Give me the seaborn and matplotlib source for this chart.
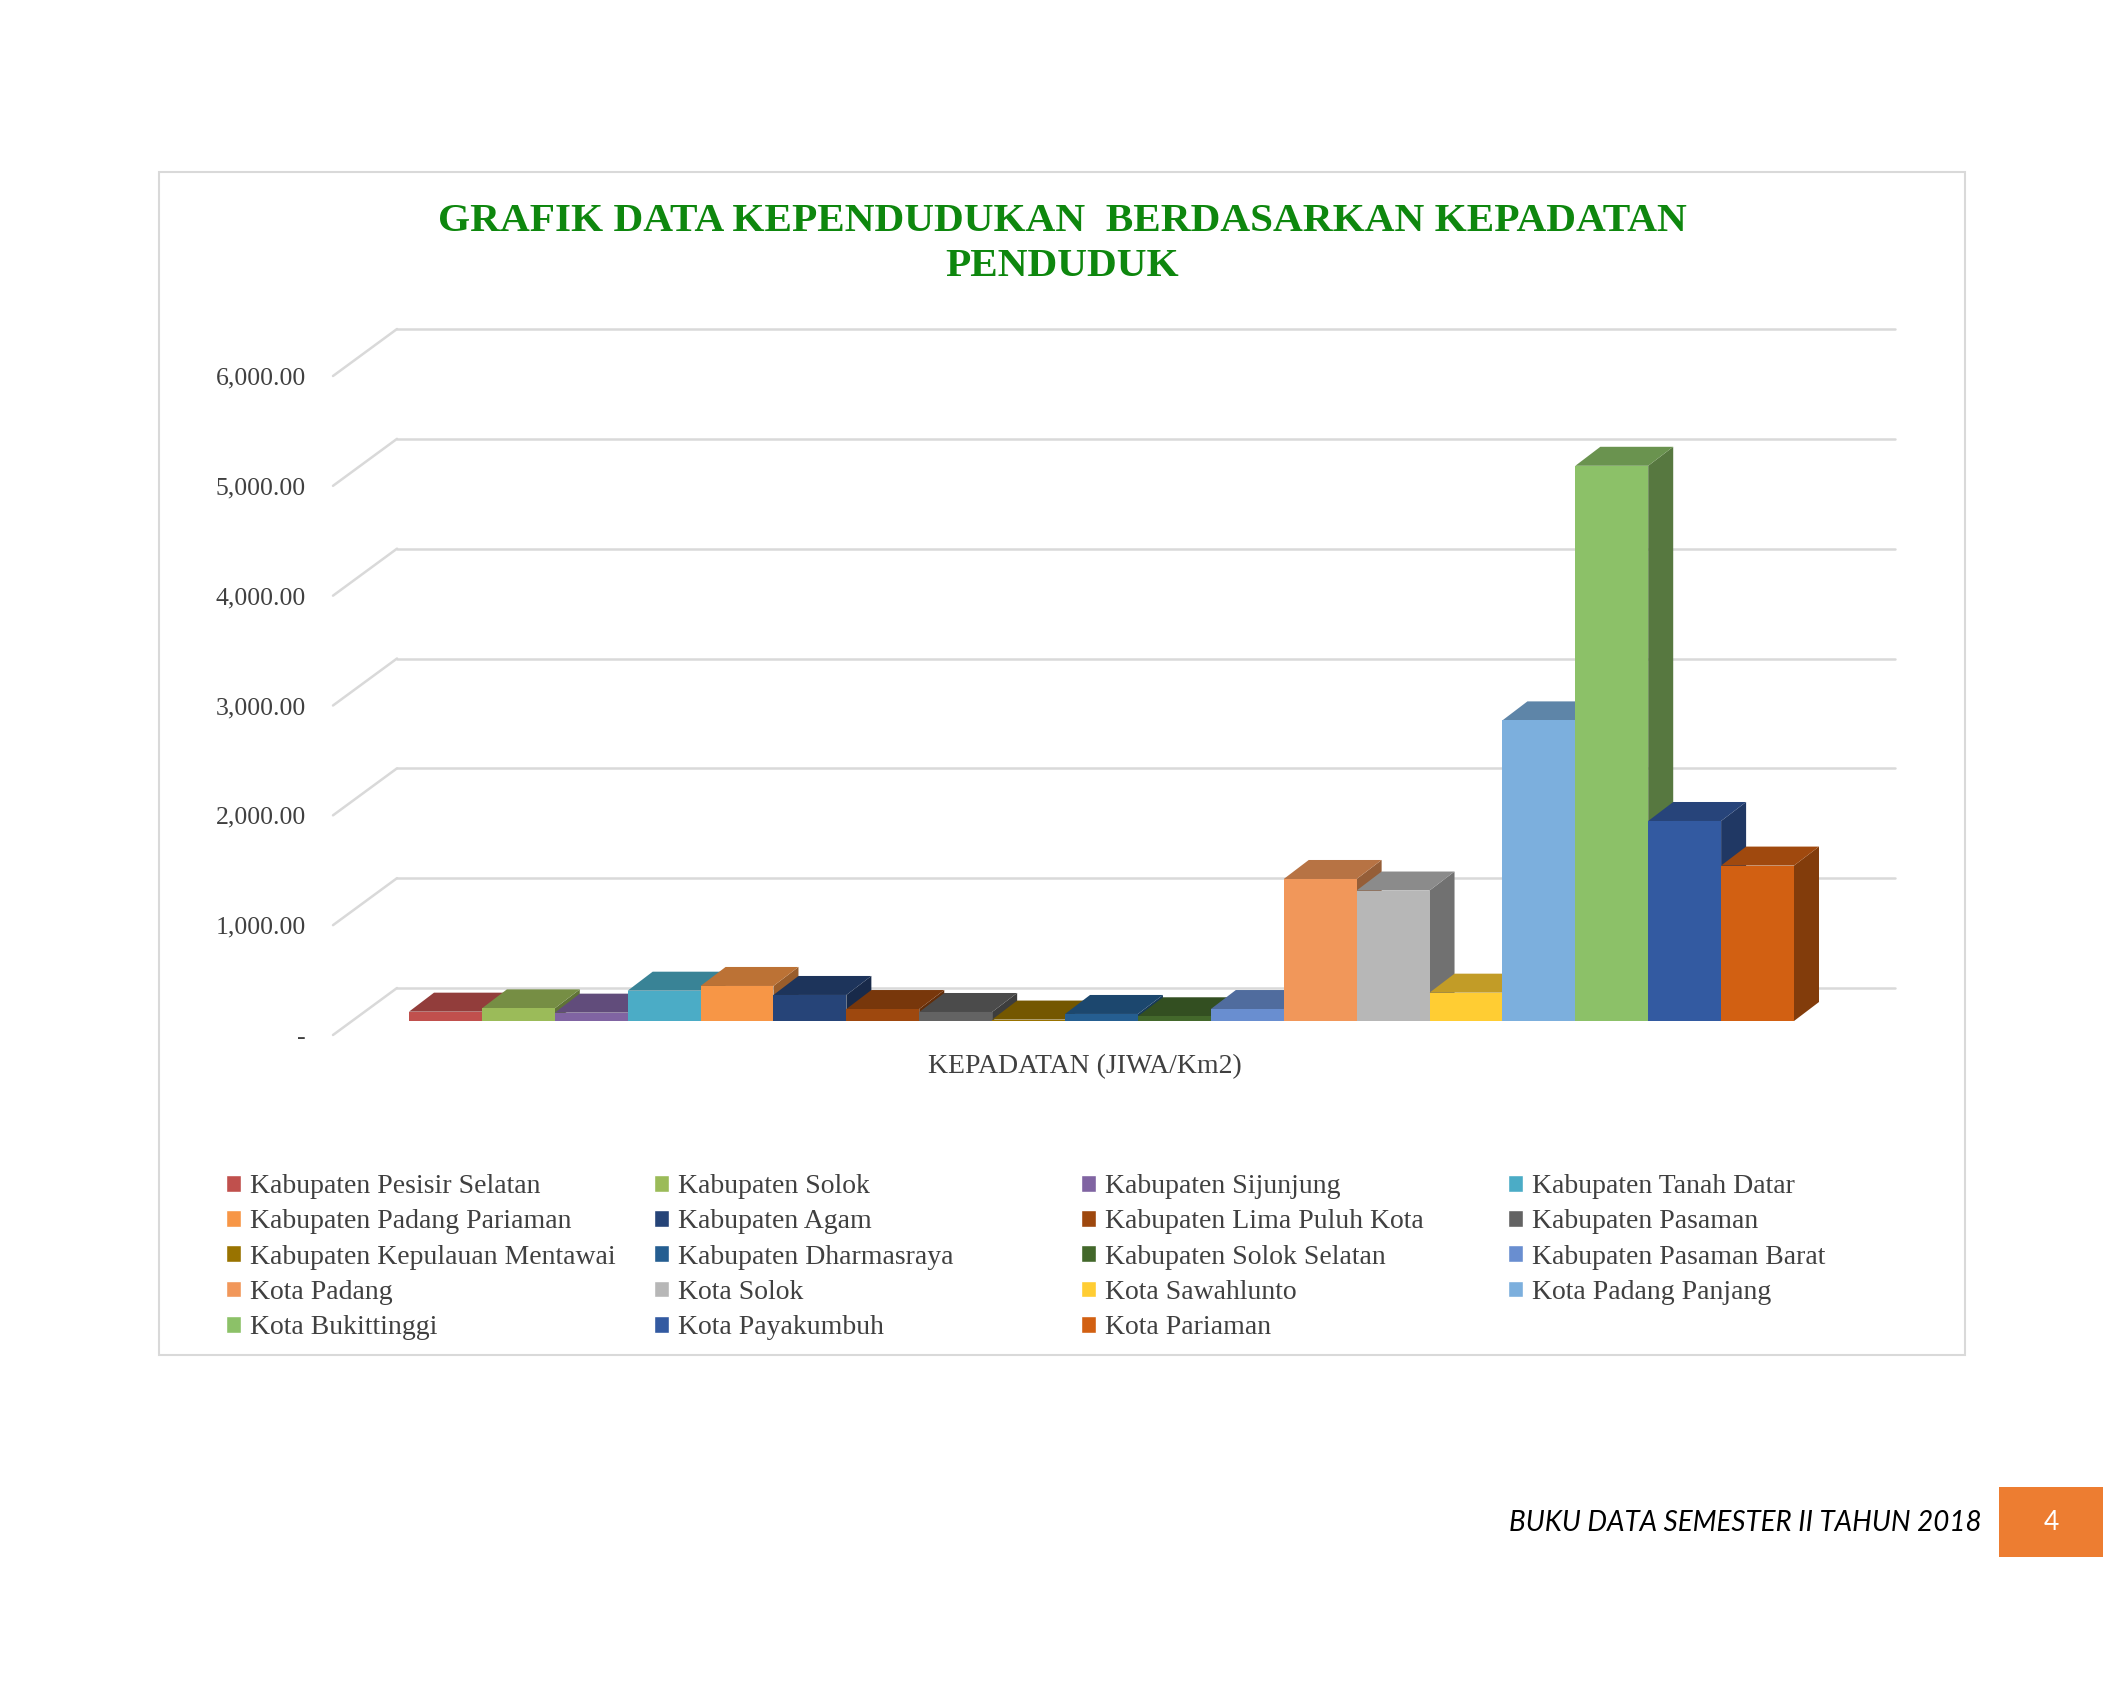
import matplotlib
matplotlib.use("Agg")
import matplotlib.pyplot as plt
from matplotlib.patches import Polygon, Rectangle
from matplotlib.lines import Line2D
from matplotlib.ticker import FuncFormatter
import matplotlib.colors as mcolors
import numpy as np
import pandas as pd
import seaborn as sns

# ---------------- data ----------------
wilayah = [
    "Kabupaten Pesisir Selatan", "Kabupaten Solok", "Kabupaten Sijunjung",
    "Kabupaten Tanah Datar", "Kabupaten Padang Pariaman", "Kabupaten Agam",
    "Kabupaten Lima Puluh Kota", "Kabupaten Pasaman", "Kabupaten Kepulauan Mentawai",
    "Kabupaten Dharmasraya", "Kabupaten Solok Selatan", "Kabupaten Pasaman Barat",
    "Kota Padang", "Kota Solok", "Kota Sawahlunto", "Kota Padang Panjang",
    "Kota Bukittinggi", "Kota Payakumbuh", "Kota Pariaman",
]
kepadatan = [85, 115, 76, 276, 319, 237, 109, 82, 13, 64, 43, 109,
             1293, 1188, 258, 2737, 5055, 1821, 1415]
warna = ["#C0504D", "#9BBB59", "#8064A2", "#4BACC6", "#F79646", "#264478",
         "#9E480E", "#636363", "#997300", "#255E91", "#43682B", "#698ED0",
         "#F1975A", "#B7B7B7", "#FFCD33", "#7CAFDD", "#8CC168", "#335AA1",
         "#D26012"]
y_ticks = [0, 1000, 2000, 3000, 4000, 5000, 6000]
judul = "GRAFIK DATA KEPENDUDUKAN  BERDASARKAN KEPADATAN\nPENDUDUK"
label_x = "KEPADATAN (JIWA/Km2)"
footer = "BUKU DATA SEMESTER II TAHUN 2018"
halaman = "4"

# ---------------- style ----------------
sns.set_style("white")
plt.rcParams["font.family"] = ["Liberation Serif", "DejaVu Serif"]

W, H = 2126, 1694
fig = plt.figure(figsize=(W / 100, H / 100), dpi=100)
fig.patch.set_facecolor("white")

def fx(px):
    return px / W

def fy(py):
    return 1 - py / H

# chart border
fig.add_artist(Rectangle((fx(159), fy(1355)), fx(1965) - fx(159), fy(172) - fy(1355),
                         transform=fig.transFigure, fill=False,
                         edgecolor="#D9D9D9", linewidth=1.5, zorder=0))

# main axes = front plane of the bars
ax_left, ax_right, ax_zero, ax_top = 409, 1794, 1021, 362
ax = fig.add_axes([fx(ax_left), fy(ax_zero), (ax_right - ax_left) / W, (ax_zero - ax_top) / H])
ax.patch.set_visible(False)

df = pd.DataFrame({"wilayah": wilayah, "kepadatan": kepadatan})
sns.barplot(data=df, x="wilayah", y="kepadatan", hue="wilayah",
            hue_order=wilayah, order=wilayah, palette=warna,
            width=1.0, saturation=1, ax=ax, legend=True)
ax.set_xlim(-0.5, len(wilayah) - 0.5)
ax.set_ylim(0, 6000)
for s in ax.spines.values():
    s.set_visible(False)
ax.tick_params(bottom=False, labelbottom=False, left=False, labelleft=False)
ax.set_ylabel("")
ax.set_xlabel(label_x, fontsize=20, color="#404040", va="center")
ax.xaxis.set_label_coords((1085 - ax_left) / (ax_right - ax_left),
                          -(1067 - ax_zero) / (ax_zero - ax_top))

handles, labels = ax.get_legend_handles_labels()
if ax.get_legend() is not None:
    ax.get_legend().remove()

# pixel scale of the data axes
p0 = ax.transData.transform((0, 0))
p1 = ax.transData.transform((1, 1000))
ppx = p1[0] - p0[0]
ppy = (p1[1] - p0[1]) / 1000.0

# 3D depth of bars
ddx, ddy = 25 / ppx, 19 / ppy

def shade(c, f):
    r, g, b = mcolors.to_rgb(c)
    return (r * f, g * f, b * f)

bars = [p for p in ax.patches if isinstance(p, Rectangle) and p.get_height() > 0]
bars = sorted(bars, key=lambda p: p.get_x())
for i, p in enumerate(bars):
    x0, w, h = p.get_x(), p.get_width(), p.get_height()
    base = p.get_facecolor()
    z = 2 + 3 * i
    side = Polygon([(x0 + w, 0), (x0 + w + ddx, ddy), (x0 + w + ddx, h + ddy), (x0 + w, h)],
                   closed=True, facecolor=shade(base, 0.62), edgecolor="none",
                   zorder=z, clip_on=False)
    top = Polygon([(x0, h), (x0 + w, h), (x0 + w + ddx, h + ddy), (x0 + ddx, h + ddy)],
                  closed=True, facecolor=shade(base, 0.76), edgecolor="none",
                  zorder=z + 1, clip_on=False)
    ax.add_patch(side)
    ax.add_patch(top)
    p.set_zorder(z + 2)
    p.set_edgecolor("none")
    p.set_clip_on(False)

# back wall gridlines and floor diagonals
wall_dy = 33 / ppy
xL = -0.5 + (397 - ax_left) / ppx
xR = -0.5 + (1895 - ax_left) / ppx
for v in y_ticks:
    ax.add_line(Line2D([xL, xR], [v + wall_dy, v + wall_dy], color="#D9D9D9",
                       lw=1.8, zorder=0.5, clip_on=False))
    ax.add_line(Line2D([xL - 64 / ppx, xL], [v - 14 / ppy, v + wall_dy], color="#D9D9D9",
                       lw=1.8, zorder=0.5, clip_on=False))

# y tick labels on the front plane
ax_t = fig.add_axes([fx(320), fy(1035), 0.001, (ax_zero - ax_top) / H])
ax_t.patch.set_visible(False)
for s in ax_t.spines.values():
    s.set_visible(False)
ax_t.set_ylim(0, 6000)
ax_t.set_yticks(y_ticks)
ax_t.yaxis.set_major_formatter(FuncFormatter(lambda v, pos: "-" if v == 0 else f"{v:,.2f}"))
ax_t.tick_params(axis="y", length=0, pad=10, labelsize=18.5, labelcolor="#404040")
ax_t.tick_params(axis="x", bottom=False, labelbottom=False)

# title
fig.text(fx(1062), fy(244), judul, ha="center", va="center", fontsize=29.7,
         fontweight="bold", color="#0E870E", linespacing=1.32)

# legend in four columns
order = list(range(len(handles)))
col_x = [226, 654, 1081, 1508]
for c in range(4):
    idx = order[c::4]
    fig.legend([handles[k] for k in idx], [labels[k] for k in idx],
               loc="upper left", bbox_to_anchor=(fx(col_x[c]), fy(1174)),
               bbox_transform=fig.transFigure, frameon=False, fontsize=20,
               handlelength=0.55, handleheight=0.55, handletextpad=0.3,
               labelspacing=0.37, borderpad=0, borderaxespad=0,
               labelcolor="#404040")

# footer
fig.text(fx(1982), fy(1523), footer, ha="right", va="center", fontsize=20,
         style="italic", family=["Lato", "DejaVu Sans"], color="black")
fig.add_artist(Rectangle((fx(1999), fy(1557)), fx(2103) - fx(1999), fy(1487) - fy(1557),
                         transform=fig.transFigure, facecolor="#ED7D31",
                         edgecolor="none"))
fig.text(fx(2051), fy(1522), halaman, ha="center", va="center", fontsize=19,
         family=["Lato", "DejaVu Sans"], color="white")

fig.savefig("out.png", dpi=100, facecolor="white")
